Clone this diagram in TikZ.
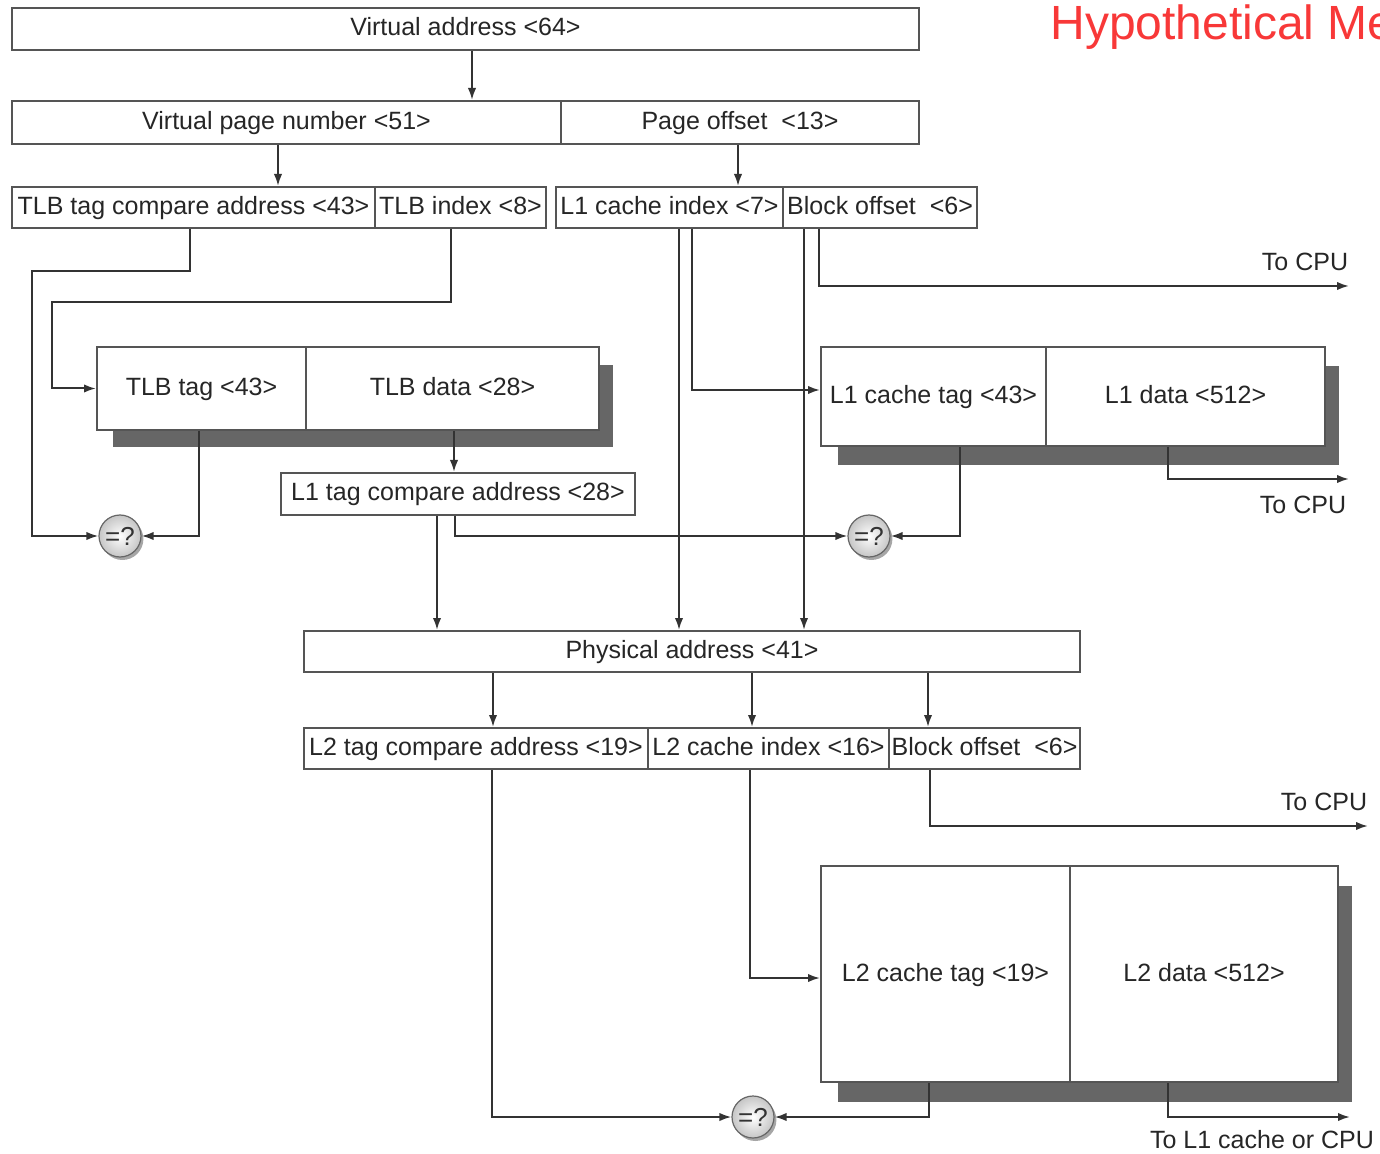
\documentclass[tikz,border=0pt]{standalone}
\usepackage{fontspec}
\setmainfont{Liberation Sans}
\usetikzlibrary{arrows.meta,fit,shadows}

\definecolor{ink}{HTML}{333333}
\definecolor{framegray}{HTML}{555555}
\definecolor{shadowgray}{HTML}{666666}
\definecolor{titlered}{HTML}{F83838}

\begin{document}
\begin{tikzpicture}[x=0.5pt,y=-0.5pt,
  note/.style={font=\fontsize{12.5}{14}\selectfont, text=black!85, inner sep=0pt,
    text height=9.5pt, text depth=2.5pt},
  fieldbox/.style={draw=framegray, line width=1pt, fill=white, inner sep=0pt},
  conn/.style={draw=ink, line width=1pt},
  arr/.style={conn, -{Latex[length=6pt,width=4.2pt]}},
  slab/.style={fill=shadowgray, draw=none},
  cmpr/.style={circle, draw=gray!80!black, line width=0.6pt, minimum size=21pt,
    inner sep=0pt, inner color=white, outer color=gray!45,
    font=\fontsize{13}{13}\selectfont, text=black!80,
    drop shadow={shadow xshift=1.2pt, shadow yshift=-1.5pt, fill=gray!70, opacity=1}}
]
\useasboundingbox (0,0) rectangle (1380,1154);
\clip (0,0) rectangle (1380,1154);

% heading
\node[anchor=base west, text=titlered, font=\fontsize{24}{28}\selectfont, inner sep=0pt]
  (title) at (1050,40) {Hypothetical Me};

% guide positions for the connectors
\foreach \gx in {190,199,278,437,451,454,455,472,492,493,679,692,738,750,752,804,819,928,929,930,960,1168}
  \coordinate (g\gx) at (\gx,0);
\coordinate (h390) at (0,390);
\coordinate (h978) at (0,978);

% address fields
\node[fieldbox, fit={(12,8) (919,50)}, label={[note]center:Virtual address <64>}] (va) {};
\node[fieldbox, fit={(12,101) (561,144)}, label={[note]center:Virtual page number <51>}] (vpn) {};
\node[fieldbox, fit={(561,101) (919,144)}, label={[note]center:Page offset\ \ <13>}] (poff) {};

\node[fieldbox, fit={(12,187) (375,228)}, label={[note]center:TLB tag compare address <43>}] (tlbcmp) {};
\node[fieldbox, fit={(375,187) (546,228)}, label={[note]center:TLB index <8>}] (tlbidx) {};
\node[fieldbox, fit={(556,187) (783,228)}, label={[note]center:L1 cache index <7>}] (l1idx) {};
\node[fieldbox, fit={(783,187) (977,228)}, label={[note]center:Block offset\ \ <6>}] (l1off) {};

% TLB
\fill[slab] (113,365) rectangle (613,447);
\node[fieldbox, fit={(97,347) (306,430)}, label={[note]center:TLB tag <43>}] (tlbtag) {};
\node[fieldbox, fit={(306,347) (599,430)}, label={[note]center:TLB data <28>}] (tlbdata) {};

\node[fieldbox, fit={(281,473) (635,515)}, label={[note]center:L1 tag compare address <28>}] (l1cmp) {};

% L1 cache
\fill[slab] (838,366) rectangle (1339,465);
\node[fieldbox, fit={(821,347) (1046,446)}, label={[note]center:L1 cache tag <43>}] (l1tag) {};
\node[fieldbox, fit={(1046,347) (1325,446)}, label={[note]center:L1 data <512>}] (l1data) {};

% physical address
\node[fieldbox, fit={(304,631) (1080,672)}, label={[note]center:Physical address <41>}] (pa) {};
\node[fieldbox, fit={(304,728) (648,769)}, label={[note]center:L2 tag compare address <19>}] (l2cmp) {};
\node[fieldbox, fit={(648,728) (889,769)}, label={[note]center:L2 cache index <16>}] (l2idx) {};
\node[fieldbox, fit={(889,728) (1080,769)}, label={[note]center:Block offset\ \ <6>}] (l2off) {};

% L2 cache
\fill[slab] (838,886) rectangle (1352,1102);
\node[fieldbox, fit={(821,866) (1070,1082)}, label={[note]center:L2 cache tag <19>}] (l2tag) {};
\node[fieldbox, fit={(1070,866) (1338,1082)}, label={[note]center:L2 data <512>}] (l2data) {};

% comparators
\node[cmpr] (cmp1) at (120,536) {=?};
\node[cmpr] (cmp2) at (869,536) {=?};
\node[cmpr] (cmp3) at (753,1117) {=?};

% outputs
\coordinate (cpu1) at (1349,286);
\coordinate (cpu2) at (1349,479);
\coordinate (cpu3) at (1368,826);
\coordinate (cpu4) at (1350,1117);
\node[note] (tocpu1) at (1305,264) {To CPU};
\node[note] (tocpu2) at (1303,507) {To CPU};
\node[note] (tocpu3) at (1324,803) {To CPU};
\node[note] (tol1) at (1262,1141) {To L1 cache or CPU};

% connectors
\draw[arr] (va.south -| g472) -- (vpn.north -| g472);
\draw[arr] (vpn.south -| g278) -- (tlbcmp.north -| g278);
\draw[arr] (poff.south -| g738) -- (l1idx.north -| g738);

\coordinate (b1) at (32,271);
\coordinate (b2) at (52,302);
\draw[arr] (tlbcmp.south -| g190) |- (b1) |- (cmp1.west);
\draw[arr] (tlbidx.south -| g451) |- (b2) |- (tlbtag.west);
\draw[arr] (tlbtag.south -| g199) |- (cmp1.east);
\draw[arr] (tlbdata.south -| g454) -- (l1cmp.north -| g454);

\draw[arr] (l1cmp.south -| g437) -- (pa.north -| g437);
\draw[arr] (l1cmp.south -| g455) |- (cmp2.west);
\draw[arr] (l1idx.south -| g679) -- (pa.north -| g679);
\draw[arr] (l1idx.south -| g692) |- (l1tag.west |- h390);
\draw[arr] (l1off.south -| g804) -- (pa.north -| g804);
\draw[arr] (l1off.south -| g819) |- (cpu1);
\draw[arr] (l1tag.south -| g960) |- (cmp2.east);
\draw[arr] (l1data.south -| g1168) |- (cpu2);

\draw[arr] (pa.south -| g493) -- (l2cmp.north -| g493);
\draw[arr] (pa.south -| g752) -- (l2idx.north -| g752);
\draw[arr] (pa.south -| g928) -- (l2off.north -| g928);
\draw[arr] (l2off.south -| g930) |- (cpu3);
\draw[arr] (l2idx.south -| g750) |- (l2tag.west |- h978);
\draw[arr] (l2cmp.south -| g492) |- (cmp3.west);
\draw[arr] (l2tag.south -| g929) |- (cmp3.east);
\draw[arr] (l2data.south -| g1168) |- (cpu4);
\end{tikzpicture}
\end{document}
